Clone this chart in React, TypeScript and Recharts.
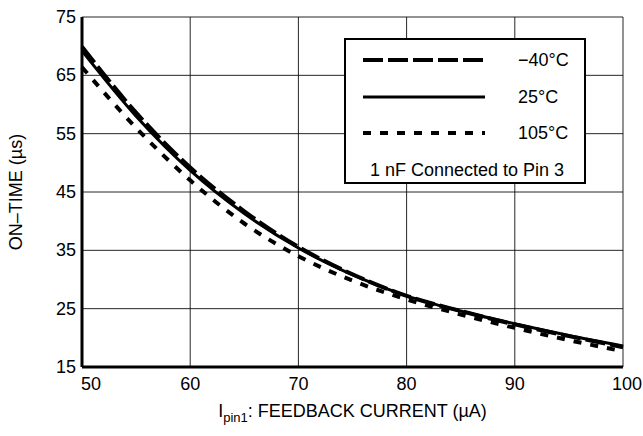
import {
  LineChart,
  Line,
  XAxis,
  YAxis,
  CartesianGrid,
  Legend,
} from "recharts";

const currents = [50, 55, 60, 65, 70, 75, 80, 85, 90, 95, 100];
const coldTime = [69.9, 58.6, 49.2, 41.7, 35.6, 30.9, 27.2, 24.6, 22.3, 20.3, 18.4];
const roomTime = [69.2, 58.0, 48.7, 41.3, 35.4, 30.8, 27.2, 24.6, 22.4, 20.4, 18.6];
const hotTime = [66.4, 56.0, 47.0, 39.6, 34.0, 29.8, 26.6, 24.0, 21.7, 19.6, 17.7];

const xTicks = [50, 60, 70, 80, 90, 100];
const yTicks = [15, 25, 35, 45, 55, 65, 75];

const seriesNames = ["\u221240\u00b0C", "25\u00b0C", "105\u00b0C"];
const legendNote = "1 nF Connected to Pin 3";

const data = currents.map((x, i) => ({
  x,
  cold: coldTime[i],
  room: roomTime[i],
  hot: hotTime[i],
}));

const font = "'Liberation Sans', Arial, sans-serif";

const dashes = ["20 5", undefined, "8 9"];
const widths = [4, 3, 4];

function XTick(props: any) {
  const { x, y, payload } = props;
  const shift = payload.value === 50 ? 9 : payload.value === 100 ? 4 : 0;
  return (
    <text x={x + shift} y={y} dy={15} textAnchor="middle" fontSize={18} fontFamily={font} fill="#000">
      {payload.value}
    </text>
  );
}

function YTick(props: any) {
  const { x, y, payload } = props;
  return (
    <text x={x + 2} y={y} dy={6} textAnchor="end" fontSize={18} fontFamily={font} fill="#000">
      {payload.value}
    </text>
  );
}

function LegendBox() {
  const rows = [22, 59, 95];
  return (
    <svg width={242} height={146}>
      <rect x={1} y={1} width={240} height={144} fill="#fff" stroke="#000" strokeWidth={2} />
      {seriesNames.map((name, i) => (
        <g key={name}>
          <line
            x1={19}
            x2={141}
            y1={rows[i]}
            y2={rows[i]}
            stroke="#000"
            strokeWidth={widths[i]}
            strokeDasharray={dashes[i]}
          />
          <text x={174} y={rows[i]} dy={6} fontSize={18} fontFamily={font} fill="#000">
            {name}
          </text>
        </g>
      ))}
      <text x={123} y={132} dy={6} textAnchor="middle" fontSize={18} fontFamily={font} fill="#000">
        {legendNote}
      </text>
    </svg>
  );
}

export default function App() {
  return (
    <div style={{ position: "absolute", left: 0, top: 0, background: "#fff" }}>
      <LineChart width={643} height={436} data={data} margin={{ top: 17, right: 20, left: 0, bottom: 0 }}>
        <CartesianGrid stroke="#000" strokeWidth={1} strokeOpacity={0.85} />
        <XAxis
          dataKey="x"
          type="number"
          domain={[50, 100]}
          ticks={xTicks}
          tickLine={false}
          axisLine={{ stroke: "#000", strokeWidth: 3 }}
          height={69}
          tick={<XTick />}
          label={{
            content: (p: any) => {
              const vb = p.viewBox;
              return (
                <text
                  x={vb.x + vb.width / 2}
                  y={vb.y + 50}
                  textAnchor="middle"
                  fontSize={18}
                  fontFamily={font}
                  fill="#000"
                >
                  I<tspan fontSize={13} dy={5}>pin1</tspan>
                  <tspan dy={-5}>: FEEDBACK CURRENT (</tspan>
                  <tspan>{"\u00b5"}</tspan>
                  <tspan>A)</tspan>
                </text>
              );
            },
          }}
        />
        <YAxis
          type="number"
          domain={[15, 75]}
          ticks={yTicks}
          tickLine={false}
          axisLine={{ stroke: "#000", strokeWidth: 3 }}
          width={82}
          tick={<YTick />}
          label={{
            content: (p: any) => {
              const vb = p.viewBox;
              const cx = vb.x + 16;
              const cy = vb.y + vb.height / 2;
              return (
                <text
                  x={cx}
                  y={cy}
                  transform={`rotate(-90 ${cx} ${cy})`}
                  textAnchor="middle"
                  dominantBaseline="central"
                  fontSize={18}
                  fontFamily={font}
                  fill="#000"
                >
                  ON{"\u2013"}TIME ({"\u00b5"}s)
                </text>
              );
            },
          }}
        />
        <Legend
          layout="horizontal"
          verticalAlign="middle"
          align="center"
          content={() => <LegendBox />}
          wrapperStyle={{ left: 344, top: 38, width: 242, height: 146 }}
        />
        <Line
          type="monotone"
          dataKey="cold"
          stroke="#000"
          strokeWidth={widths[0]}
          strokeDasharray={dashes[0]}
          dot={false}
          isAnimationActive={false}
        />
        <Line
          type="monotone"
          dataKey="room"
          stroke="#000"
          strokeWidth={widths[1]}
          dot={false}
          isAnimationActive={false}
        />
        <Line
          type="monotone"
          dataKey="hot"
          stroke="#000"
          strokeWidth={widths[2]}
          strokeDasharray={dashes[2]}
          dot={false}
          isAnimationActive={false}
        />
      </LineChart>
    </div>
  );
}
